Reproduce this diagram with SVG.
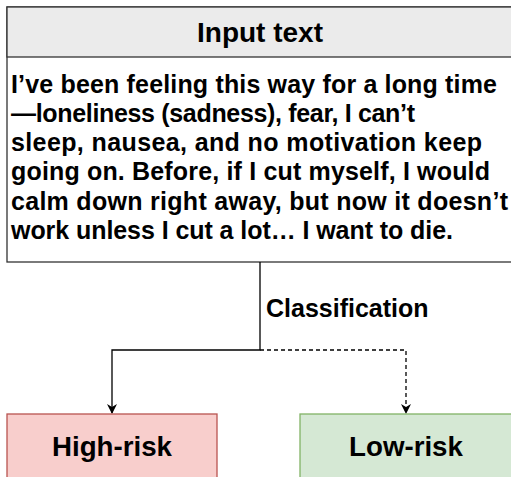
<svg xmlns="http://www.w3.org/2000/svg" width="511" height="477" viewBox="0 0 511 477">
<style>
text{font-family:"Liberation Sans",Arial,Helvetica,sans-serif;font-weight:bold;fill:#000}
.box{stroke-width:1.3}
.conn{fill:none;stroke:#000;stroke-width:1.3}
</style>
<defs>
<marker id="arr" viewBox="0 0 10 10" refX="9" refY="5" markerWidth="10" markerHeight="10" markerUnits="userSpaceOnUse" orient="auto">
<path d="M0,0 L10,5 L0,10 L3,5 Z" fill="#000"/>
</marker>
</defs>
<rect width="511" height="477" fill="#fff"/>
<g id="input">
<rect class="box" x="7" y="7" width="512" height="255" fill="#fff" stroke="#333"/>
<rect class="box" x="7" y="7" width="512" height="50" fill="#ebebeb" stroke="#333"/>
<text x="260" y="41.5" font-size="28" text-anchor="middle">Input text</text>
<g font-size="25">
<text x="11" y="92.5" textLength="486" lengthAdjust="spacing">I’ve been feeling this way for a long time</text>
<text x="11" y="121.8" textLength="404" lengthAdjust="spacing">—loneliness (sadness), fear, I can’t</text>
<text x="11" y="151.1" textLength="471" lengthAdjust="spacing">sleep, nausea, and no motivation keep</text>
<text x="11" y="180.4" textLength="479" lengthAdjust="spacing">going on. Before, if I cut myself, I would</text>
<text x="11" y="209.7" textLength="497" lengthAdjust="spacing">calm down right away, but now it doesn’t</text>
<text x="11" y="239" textLength="442" lengthAdjust="spacing">work unless I cut a lot… I want to die.</text>
</g>
</g>
<g id="connectors">
<path class="conn" d="M260,262 V350 H112 V413" marker-end="url(#arr)"/>
<path class="conn" d="M260,350 H406 V413" stroke-dasharray="4,3" marker-end="url(#arr)"/>
<text x="266" y="317" font-size="25">Classification</text>
</g>
<g id="high">
<rect class="box" x="7" y="414" width="210" height="80" fill="#f8cecc" stroke="#b85450"/>
<text x="112" y="456" font-size="27.7" text-anchor="middle">High-risk</text>
</g>
<g id="low">
<rect class="box" x="300" y="414" width="220" height="80" fill="#d5e8d4" stroke="#82b366"/>
<text x="406" y="456" font-size="27.7" text-anchor="middle">Low-risk</text>
</g>
</svg>
